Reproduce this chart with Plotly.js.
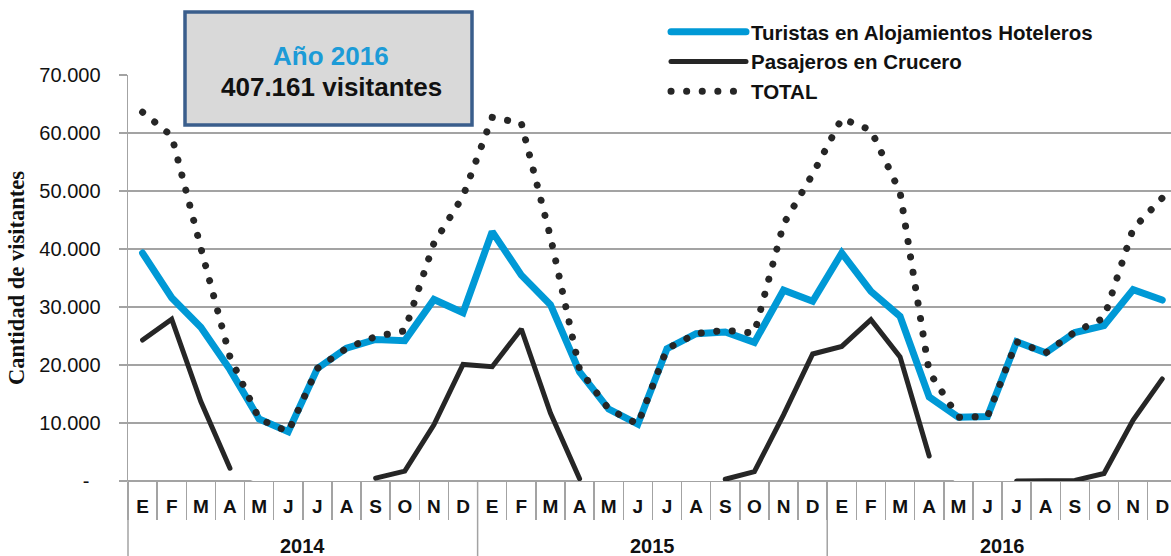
<!DOCTYPE html>
<html>
<head>
<meta charset="utf-8">
<script src="https://cdn.plot.ly/plotly-3.0.1.min.js"></script>
<style>
html, body { margin: 0; padding: 0; background: #ffffff; }
#chart { width: 1171px; height: 556px; }
.js-line { stroke-linecap: round; }
</style>
</head>
<body>
<div id="chart"></div>
<script>
// ---- Data ----
const anios = ['2014', '2015', '2016'];
const meses = ['E', 'F', 'M', 'A', 'M', 'J', 'J', 'A', 'S', 'O', 'N', 'D'];

const turistas = [
  39300, 31600, 26500, 19200, 10700, 8500, 19400, 22900, 24400, 24200, 31300, 29000,
  43000, 35500, 30400, 18800, 12400, 9800, 22800, 25400, 25700, 23900, 32900, 31000,
  39300, 32700, 28400, 14500, 11000, 11100, 24000, 22100, 25600, 26800, 33000, 31200
];
const pasajeros = [
  24300, 27900, 13700, 2200, null, null, null, null, 500, 1700, 9700, 20100,
  19700, 26200, 11700, 400, null, null, null, null, 300, 1600, 11400, 21900,
  23200, 27800, 21400, 4300, null, null, 0, 0, 100, 1300, 10500, 17600
];
const total = [
  63600, 59500, 40200, 21400, 10700, 8500, 19400, 22900, 24900, 25900, 41000, 49100,
  62700, 61700, 42100, 19200, 12400, 9800, 22800, 25400, 26000, 25500, 44300, 52900,
  62500, 60500, 49800, 18800, 11000, 11100, 24000, 22100, 25700, 28100, 43500, 48800
];

const yTicks = [0, 10000, 20000, 30000, 40000, 50000, 60000, 70000];
const yTickText = ['-\u00a0\u00a0', '10.000', '20.000', '30.000', '40.000', '50.000', '60.000', '70.000'];

const recuadroTitulo = 'Año 2016';
const recuadroValor = '407.161 visitantes';

// ---- Derived helpers ----
const x = turistas.map((_, i) => i);
const etiquetasMes = x.map(i => meses[i % 12]);
const limites = x.map(i => i - 0.5).concat([x.length - 0.5]);
// months without cruise service are drawn as a white (invisible) zero segment, as in the original
const pasajerosSinTemporada = pasajeros.map((v, i) => {
  if (v === null) return 0;
  if (pasajeros[i - 1] === null || pasajeros[i + 1] === null) return v;
  return null;
});

const SANS = 'Liberation Sans, Arial, sans-serif';
const GRIS = '#a3a3a3';
const AZUL = '#0099d6';
const NEGRO = '#262626';

const traces = [
  { x: x, y: pasajerosSinTemporada, mode: 'lines', line: { color: '#ffffff', width: 5 },
    showlegend: false, hoverinfo: 'skip' },
  { x: x, y: turistas, mode: 'lines', name: 'Turistas en Alojamientos Hoteleros',
    line: { color: AZUL, width: 7 } },
  { x: x, y: pasajeros, mode: 'lines', name: 'Pasajeros en Crucero',
    line: { color: NEGRO, width: 5 } },
  { x: x, y: total, mode: 'lines', name: 'TOTAL',
    line: { color: NEGRO, width: 7, dash: '0.1px,15.5px' } }
];

const PLOT_L = 128, PLOT_T = 75, PLOT_W = 1043, PLOT_H = 406;
const px = v => (v - PLOT_L) / PLOT_W;
const py = v => (PLOT_T + PLOT_H - v) / PLOT_H;

const shapes = [
  // y axis line extended through the category label area
  { type: 'line', xref: 'paper', yref: 'paper', x0: 0, x1: 0, y0: 0, y1: py(556),
    line: { color: GRIS, width: 1.5 } },
  // hide the top gridline behind the legend area
  { type: 'rect', xref: 'paper', yref: 'paper', x0: px(602), x1: 1.01, y0: py(79), y1: py(71),
    fillcolor: '#ffffff', line: { width: 0 }, layer: 'above' },
  // summary box
  { type: 'rect', xref: 'paper', yref: 'paper', x0: px(185), x1: px(472), y0: py(125), y1: py(12),
    fillcolor: '#d9d9d9', line: { color: '#3a5e8c', width: 3.5 }, layer: 'above' }
];
// year separators
[11.5, 23.5].forEach(b => shapes.push({
  type: 'line', xref: 'x', yref: 'paper', x0: b, x1: b, y0: 0, y1: py(556),
  line: { color: GRIS, width: 1.5 }
}));

const annotations = [
  { xref: 'paper', yref: 'paper', x: px(331), y: py(56), text: recuadroTitulo, showarrow: false,
    xanchor: 'center', yanchor: 'middle', font: { family: SANS, size: 26, color: '#1c9bd7', weight: 'bold' } },
  { xref: 'paper', yref: 'paper', x: px(331), y: py(87), text: recuadroValor, showarrow: false,
    xanchor: 'center', yanchor: 'middle', font: { family: SANS, size: 26, color: '#111111', weight: 'bold' } }
];
anios.forEach((a, k) => annotations.push({
  xref: 'x', yref: 'paper', x: k * 12 + 5.5, y: py(546), text: a, showarrow: false,
  xanchor: 'center', yanchor: 'middle', font: { family: SANS, size: 20, color: '#111111', weight: 'bold' }
}));

const layout = {
  width: 1171, height: 556,
  margin: { l: PLOT_L, r: 0, t: PLOT_T, b: 556 - PLOT_T - PLOT_H },
  paper_bgcolor: '#ffffff', plot_bgcolor: '#ffffff',
  showlegend: true,
  legend: {
    x: px(666), xanchor: 'left', y: py(12), yanchor: 'top',
    bgcolor: 'rgba(0,0,0,0)', borderwidth: 0, itemwidth: 75, tracegroupgap: 0,
    font: { family: SANS, size: 20.5, color: '#111111', weight: 'bold' }
  },
  xaxis: {
    range: [-0.5, 35.3], tickmode: 'array', tickvals: x, ticktext: etiquetasMes,
    ticks: '', showgrid: false, zeroline: false, showline: false,
    ticklabeloverflow: 'allow', ticklabelstandoff: 12,
    tickfont: { family: SANS, size: 19, color: '#111111', weight: 'bold' },
    minor: { tickmode: 'array', tickvals: limites, ticks: 'outside', ticklen: 38,
             tickwidth: 1.5, tickcolor: GRIS, showgrid: false },
    layer: 'below traces', fixedrange: true
  },
  yaxis: {
    range: [0, 70000], tickmode: 'array', tickvals: yTicks, ticktext: yTickText,
    ticks: 'outside', ticklen: 8, tickwidth: 1.5, tickcolor: GRIS,
    showline: true, linecolor: GRIS, linewidth: 1.5,
    showgrid: true, gridcolor: GRIS, gridwidth: 1.5,
    zeroline: true, zerolinecolor: GRIS, zerolinewidth: 1.5,
    tickfont: { family: SANS, size: 20, color: '#111111' },
    ticklabelstandoff: 14,
    title: { text: 'Cantidad de visitantes', standoff: 8,
             font: { family: 'Liberation Serif, Times New Roman, serif', size: 22.5, color: '#111111', weight: 'bold' } },
    layer: 'below traces', fixedrange: true
  },
  shapes: shapes,
  annotations: annotations
};

Plotly.newPlot('chart', traces, layout, { displayModeBar: false, staticPlot: true });
</script>
</body>
</html>
